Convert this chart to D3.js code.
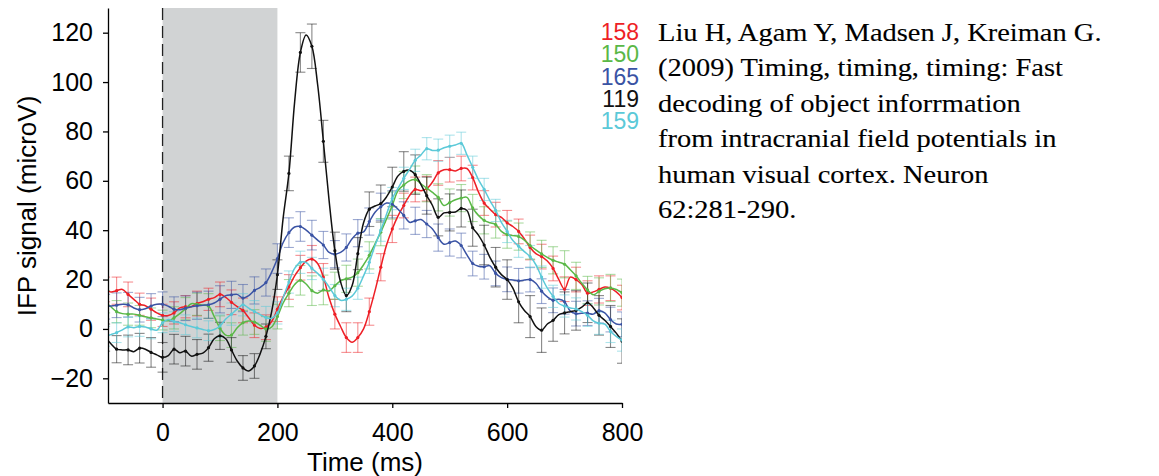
<!DOCTYPE html>
<html>
<head>
<meta charset="utf-8">
<script src="https://cdn.jsdelivr.net/npm/d3@7"></script>
<style>
  body { margin: 0; background: #fff; }
  svg { display: block; }
  .axis text { font-family: "Liberation Sans", Arial, sans-serif; font-size: 25px; fill: #000; }
  .axis path, .axis line { stroke: #000; stroke-width: 1.3px; }
</style>
</head>
<body>
<div id="chart"></div>
<script>
// sample grid (ms): lines every 10 ms, error bars every 20 ms
const tStart = -100, tStep = 10;

const seriesNames = ["158", "150", "165", "119", "159"];
const seriesColors = ["#ee1f26", "#5ab847", "#3a53a4", "#111111", "#5bc9d8"];

// mean IFP signal (microV), one value per 10 ms from -100 to 800
const red158 = [16, 15, 15.5, 16, 14, 12, 10, 9.4, 8, 6.5,
  5.5, 5.4, 6.5, 8.5, 9, 9, 10.3, 11, 12, 12.7,
  14, 12.8, 10.8, 9, 7.5, 4.5, 1.5, 0.2, 0.7, 3,
  8, 13, 17, 21.5, 24.8, 27.5, 28.3, 26.5, 21, 12.5,
  6, 1, -3.5, -5.4, -3.5, 0, 7, 15.5, 25, 34,
  40.5, 45.8, 50, 54, 56.5, 56, 56.8, 59.5, 63.2, 64.5,
  64.5, 64, 65, 65, 61.3, 55.5, 51, 48.5, 46.3, 45.2,
  43, 41.5, 39.5, 36.5, 33, 30.5, 29.3, 27.5, 24.5, 20,
  16.1, 21, 20, 18, 14.5, 15, 16, 17, 16.5, 15, 12.7];

const green150 = [11, 9, 7, 6.2, 6, 6, 5.5, 4.9, 4.5, 4,
  3.6, 3.3, 4.5, 6.2, 8.2, 10.2, 10, 9.6, 9.3, 5,
  0.3, -2.5, -2.5, 0.5, 2.5, 3.2, 2.8, 1.5, 0, 0.8,
  5, 10.5, 14.5, 18, 19.7, 18.2, 15.5, 14.5, 15.8, 15.4,
  17.5, 19.5, 20.3, 21, 22.8, 26, 29.8, 34.5, 39.2, 44.5,
  50, 56, 58.3, 60, 60.5, 58.8, 57, 55.3, 53.3, 50,
  51.2, 52.3, 53, 53.3, 49, 46, 44, 43, 42.3, 39.5,
  38.2, 37.8, 37.4, 36, 33.8, 32, 30.4, 29, 27.8, 27,
  26.2, 24, 21.5, 18.5, 15.8, 13.8, 15.2, 16.3, 16.6, 16, 14.7];

const blue165 = [9, 9.3, 9.6, 10, 9.8, 8.5, 7.8, 8.2, 9.3, 10,
  10, 9.2, 8, 7.8, 8.4, 9, 9.4, 9.6, 9.8, 10.5,
  12, 13.5, 13.8, 14, 12.5, 13.5, 15.6, 16.8, 18.8, 23,
  28.5, 35, 39, 41.3, 41.5, 40, 38, 36, 34, 31,
  30.3, 31, 33, 36.5, 38.8, 39.3, 43.5, 47.3, 49.5, 51,
  50.5, 48.5, 46, 43.2, 43.8, 44.3, 42.5, 40.5, 37, 34.3,
  35, 35.6, 33.8, 30, 26.5, 25.4, 25.2, 25.6, 22.5, 20.8,
  20.1, 19.8, 19.5, 19.8, 20, 18.5, 15.3, 13, 11.6, 12,
  11, 7.2, 6.2, 6.4, 6.4, 6, 7.4, 6.5, 3.8, 2, 1.9];

const black119 = [-3.5, -6, -8.2, -8.5, -8.5, -9.2, -7.8, -8.2, -9.5, -10.5,
  -11.5, -10.8, -8.2, -9.6, -9, -11, -10.3, -9.8, -7.6, -4,
  -2.8, -4, -8.5, -13, -15.8, -17, -15, -10, -3, 7,
  22, 45, 63, 92, 112, 119.1, 114.5, 99, 76, 52,
  31.7, 19, 13.5, 17.5, 30.5, 43, 48.5, 49.8, 50.8, 53.5,
  57.5, 62, 63.8, 64.3, 62.5, 58.5, 54, 50, 45.2, 47,
  47.2, 47.4, 48.8, 48, 41, 38, 34, 29, 25, 22,
  20, 16.5, 11, 7.5, 5, 1, -0.5, 2, 3.5, 5.8,
  6.5, 7, 7.5, 8.8, 10.6, 8.6, 5.5, 3.5, 1, -1.7, -4.9];

const cyan159 = [-3, -2.3, -1.5, -0.4, 0.8, 0.5, 1, 0.8, 0, -0.5,
  2.5, 3.8, 3, 2.5, 1.7, 1, 0.4, -0.2, -0.7, -0.2,
  1.2, 4, 6, 8, 9.8, 8.4, 7, 5.8, 4.6, 4.3,
  6.5, 12.7, 19, 24.5, 27, 26.9, 24.5, 22.5, 20.1, 17,
  13.5, 11.6, 12, 13.3, 16.5, 21.5, 27, 33.8, 40, 46.5,
  52.8, 57, 61, 64.6, 68.3, 70.5, 73, 72.3, 72.4, 73.4,
  74, 74.5, 75.2, 70.5, 65.5, 60.5, 56.5, 52, 48, 43.2,
  39.5, 35.8, 33.5, 31.3, 29.3, 26, 21, 16.5, 13.2, 10.3,
  9.3, 8.5, 8.1, 7, 5.5, 3.3, 2.3, 2, -1, -3, -4.5];

// s.e.m. half-widths, one per 20 ms from -100 to 800
const red158Err = [5, 5.5, 5, 4.5, 4.5, 4.5, 4.5, 4.5, 5, 4.5, 5, 5, 5, 5, 5, 5,
  5, 5, 5.5, 5.5, 6, 6, 6, 5.5, 5.5, 5.5, 5, 5, 5, 5, 5,
  5, 5, 5, 5, 5, 5, 5, 5, 5, 5, 5, 5, 5.5, 5, 5];
const green150Err = [4.5, 4.5, 4.5, 4, 4, 4, 4.5, 4.5, 4.5, 5, 5, 5, 5, 5, 5, 5,
  5.5, 6, 6, 6, 5.5, 5.5, 5.5, 5.5, 5.5, 5.5, 5.5, 5.5, 5.5, 5.5, 5.5,
  5.5, 5.5, 5.5, 5.5, 5.5, 5.5, 5.5, 5.5, 5.5, 5.5, 5.5, 5.5, 5.5, 5.5, 5.5];
const blue165Err = [5, 5, 5, 5, 5, 5, 5, 5, 5.5, 5.5, 5.5, 5.5, 5.5, 5.5, 5.5, 6,
  6, 6, 6, 5.5, 5.5, 5.5, 5.5, 5.5, 5.5, 5.5, 5.5, 5.5, 5.5, 5.5, 5.5,
  5, 5, 5, 5, 5, 5, 5, 5, 5, 5, 5, 5, 5, 5, 5];
const black119Err = [5.5, 5.5, 6, 6, 6, 6, 6, 6, 6, 5.5, 5.5, 5, 5, 5, 5, 6,
  7, 8, 9, 8.5, 7.5, 6.5, 6.5, 7, 7.5, 8, 8, 8, 7.5, 7.5, 7.5,
  7.5, 7.5, 8, 8, 8, 8.5, 8.5, 9, 8.5, 8.5, 8, 8, 8, 8.5, 9];
const cyan159Err = [4, 4, 4, 4, 4, 4, 4, 4, 4, 4, 4.5, 4.5, 4.5, 4.5, 4.5, 4.5,
  4.5, 4.5, 4.5, 4.5, 4.5, 4.5, 4.5, 4.5, 4.5, 4.5, 4.5, 4.5, 4.5, 4.5, 4.5,
  4.5, 4.5, 4.5, 4.5, 4.5, 4.5, 4.5, 4.5, 4.5, 4.5, 4.5, 4.5, 4.5, 4.5, 4.5];

const xTicks = [0, 200, 400, 600, 800];
const yTicks = [-20, 0, 20, 40, 60, 80, 100, 120];
const stimulusWindow = [0, 200];

const citationLines = [
  "Liu H, Agam Y, Madsen J, Kreiman G.",
  "(2009) Timing, timing, timing: Fast",
  "decoding of object inforrmation",
  "from intracranial field potentials in",
  "human visual cortex. Neuron",
  "62:281-290."
];

const series = [
  { values: red158, err: red158Err },
  { values: green150, err: green150Err },
  { values: blue165, err: blue165Err },
  { values: black119, err: black119Err },
  { values: cyan159, err: cyan159Err }
];

const W = 1159, H = 476;
const plot = { left: 108, right: 622, top: 8, bottom: 403 };

const x = d3.scaleLinear().domain([-95, 800]).range([plot.left, plot.right]);
const y = d3.scaleLinear().domain([-30, 130]).range([plot.bottom, plot.top]);

const svg = d3.select("#chart").append("svg")
  .attr("width", W).attr("height", H);

svg.append("defs").append("clipPath").attr("id", "plotclip")
  .append("rect")
  .attr("x", plot.left).attr("y", plot.top)
  .attr("width", plot.right - plot.left).attr("height", plot.bottom - plot.top);

// stimulus presentation window
svg.append("rect")
  .attr("x", x(stimulusWindow[0]))
  .attr("y", plot.top)
  .attr("width", x(stimulusWindow[1]) - x(stimulusWindow[0]))
  .attr("height", plot.bottom - plot.top)
  .attr("fill", "#d1d3d4");

svg.append("line")
  .attr("x1", x(0)).attr("x2", x(0))
  .attr("y1", plot.top).attr("y2", plot.bottom)
  .attr("stroke", "#222").attr("stroke-width", 1.3)
  .attr("stroke-dasharray", "12,6");

const g = svg.append("g").attr("clip-path", "url(#plotclip)");

const tAt = i => tStart + i * tStep;

// error bars
series.forEach((s, k) => {
  const pts = s.err.map((e, i) => ({ t: tAt(i * 2), v: s.values[i * 2], e: e }));
  const eb = g.append("g")
    .attr("stroke", seriesColors[k])
    .attr("stroke-opacity", 0.5)
    .attr("stroke-width", 1.1);
  eb.selectAll("line.v").data(pts).enter().append("line")
    .attr("x1", d => x(d.t)).attr("x2", d => x(d.t))
    .attr("y1", d => y(d.v - d.e)).attr("y2", d => y(d.v + d.e));
  eb.selectAll("line.lo").data(pts).enter().append("line")
    .attr("x1", d => x(d.t) - 5).attr("x2", d => x(d.t) + 5)
    .attr("y1", d => y(d.v - d.e)).attr("y2", d => y(d.v - d.e));
  eb.selectAll("line.hi").data(pts).enter().append("line")
    .attr("x1", d => x(d.t) - 5).attr("x2", d => x(d.t) + 5)
    .attr("y1", d => y(d.v + d.e)).attr("y2", d => y(d.v + d.e));
});

// mean traces
const line = d3.line()
  .x((d, i) => x(tAt(i)))
  .y(d => y(d))
  .curve(d3.curveCatmullRom.alpha(0.5));

series.forEach((s, k) => {
  g.append("path")
    .attr("d", line(s.values))
    .attr("fill", "none")
    .attr("stroke", seriesColors[k])
    .attr("stroke-width", 1.5);
  g.selectAll(null).data(s.err).enter().append("circle")
    .attr("cx", (d, i) => x(tAt(i * 2)))
    .attr("cy", (d, i) => y(s.values[i * 2]))
    .attr("r", 1.6)
    .attr("fill", seriesColors[k]);
});

// axes
svg.append("g")
  .attr("class", "axis")
  .attr("transform", `translate(0,${plot.bottom})`)
  .call(d3.axisBottom(x).tickValues(xTicks).tickSize(5).tickSizeOuter(0).tickPadding(15)
    .tickFormat(d3.format("d")));

svg.append("g")
  .attr("class", "axis")
  .attr("transform", `translate(${plot.left},0)`)
  .call(d3.axisLeft(y).tickValues(yTicks).tickSize(5).tickSizeOuter(0).tickPadding(10)
    .tickFormat(d => d < 0 ? "\u2212" + Math.abs(d) : d));

svg.append("text")
  .attr("x", 365).attr("y", 471)
  .attr("text-anchor", "middle")
  .style("font-family", "Liberation Sans, Arial, sans-serif")
  .style("font-size", "26px")
  .text("Time (ms)");

svg.append("text")
  .attr("transform", "translate(27,206) rotate(-90)")
  .attr("text-anchor", "middle")
  .attr("dy", "0.35em")
  .style("font-family", "Liberation Sans, Arial, sans-serif")
  .style("font-size", "26px")
  .text("IFP signal (microV)");

// legend
svg.append("g").selectAll("text").data(seriesNames).enter().append("text")
  .attr("x", 639)
  .attr("y", (d, i) => 40 + i * 22.3)
  .attr("text-anchor", "end")
  .attr("fill", (d, i) => seriesColors[i])
  .style("font-family", "Liberation Sans, Arial, sans-serif")
  .style("font-size", "23px")
  .text(d => d);

// citation (serif, widened to the reference line length ~444px)
const citeG = svg.append("g");
const cite = citeG.selectAll("text").data(citationLines).enter().append("text")
  .attr("x", 0)
  .attr("y", (d, i) => 41 + i * 35.5)
  .style("font-family", "Liberation Serif, Times New Roman, serif")
  .style("font-size", "25.5px")
  .attr("fill", "#000")
  .attr("stroke", "#000")
  .attr("stroke-width", 0.12)
  .text(d => d);

const w0 = cite.nodes()[0].getComputedTextLength();
const sx = w0 > 0 ? 444 / w0 : 1;
citeG.attr("transform", `translate(658,0) scale(${sx.toFixed(3)},1)`);
</script>
</body>
</html>
